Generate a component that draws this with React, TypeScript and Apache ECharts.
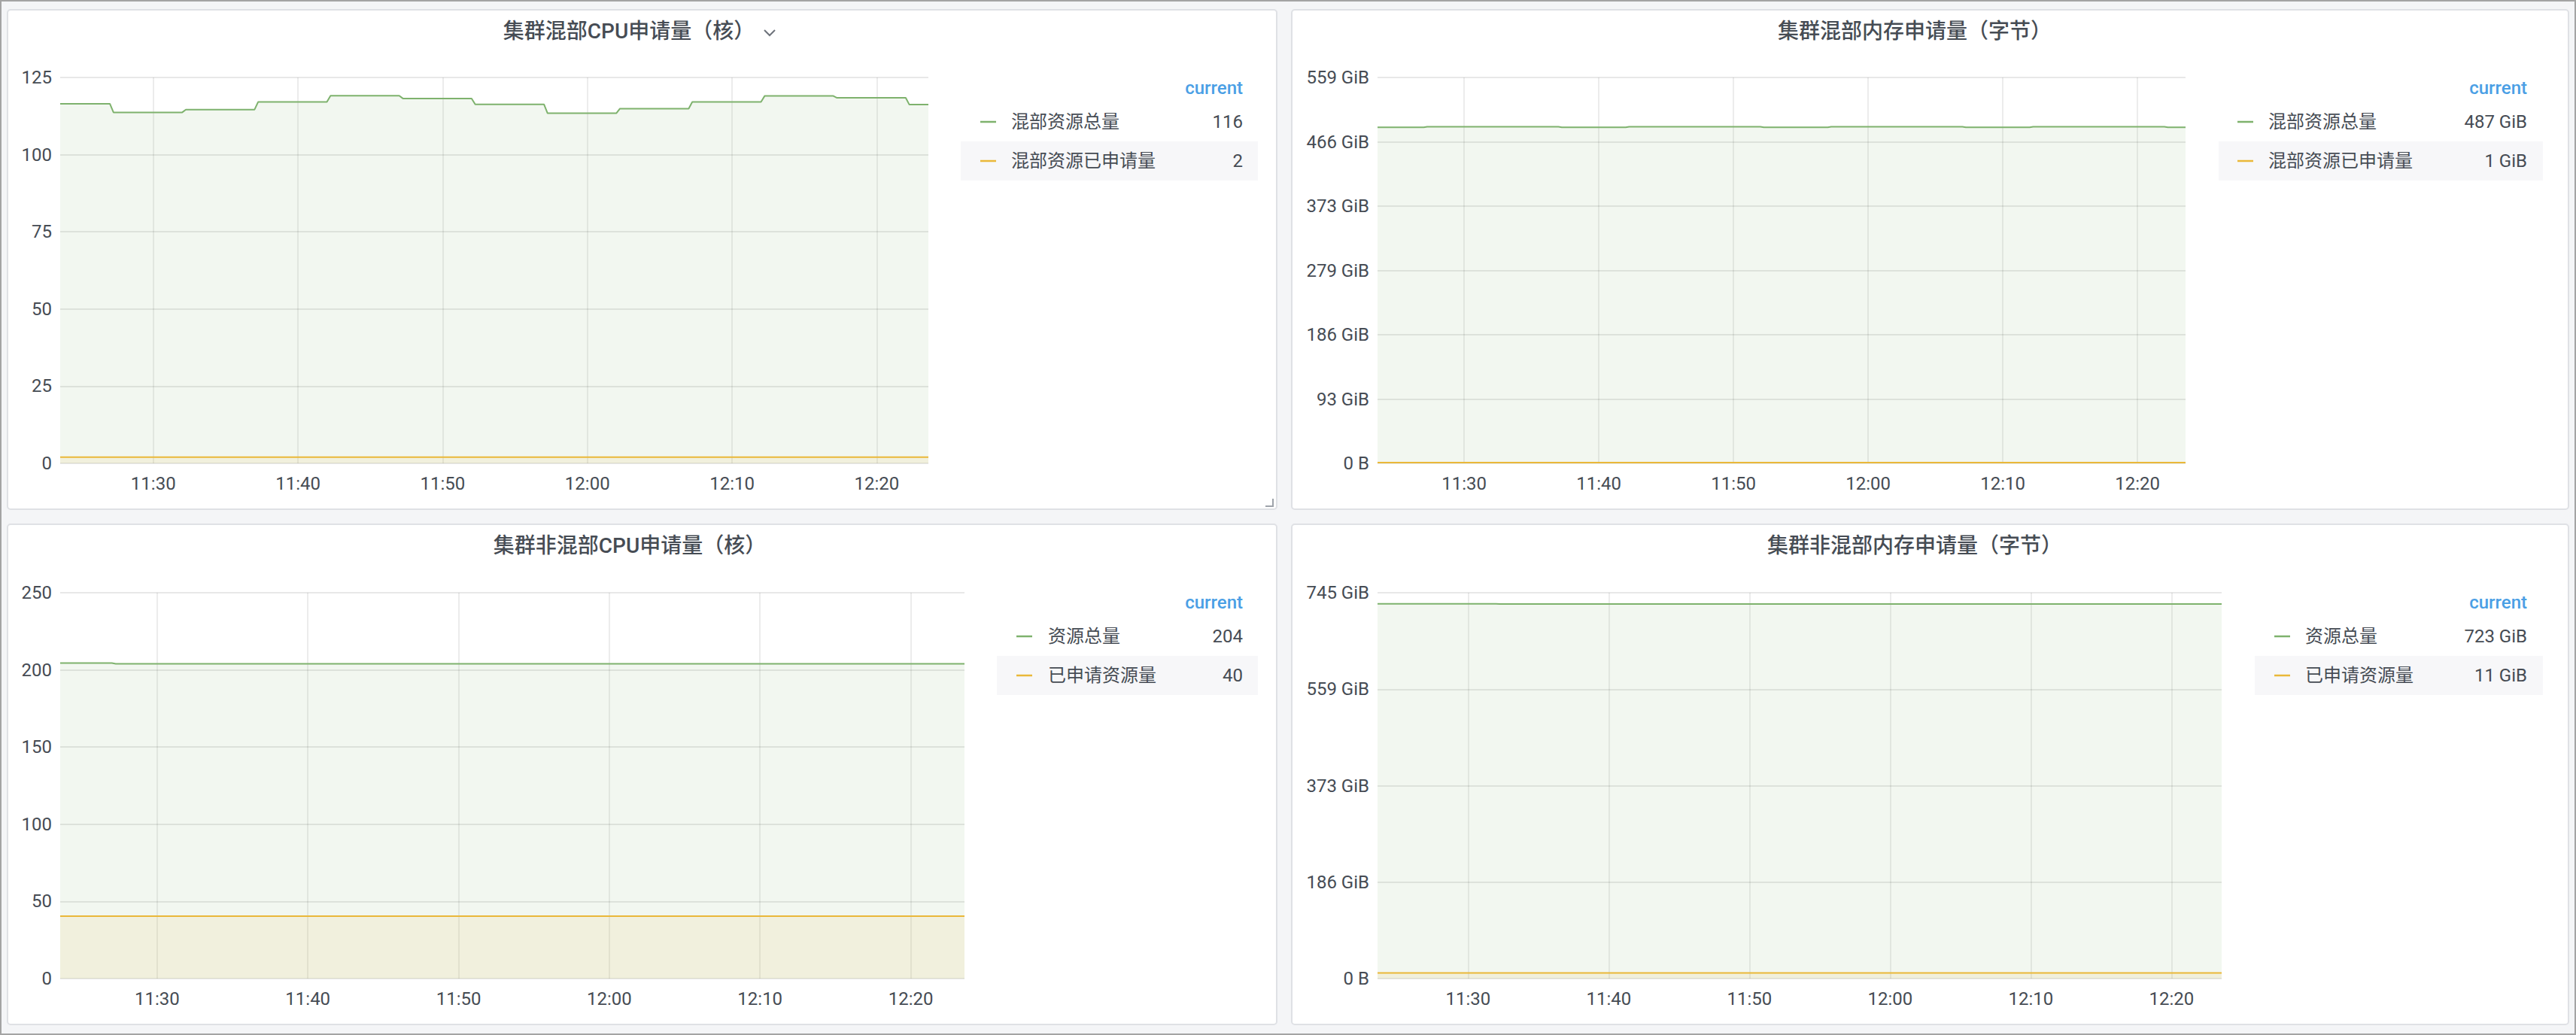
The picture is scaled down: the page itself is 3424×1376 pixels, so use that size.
import { useEffect, useRef } from "react";
import * as echarts from "echarts";

const PAGE_W = 3424;
const PAGE_H = 1376;
const GIB = 1024 ** 3;

// ---- time range (one hour window) ----
const rangeStart = "11:23:34";
const rangeEnd = "12:23:34";
// ECharts picks the largest "nice" minute step below the approximate interval,
// so an approximate 12 minutes gives ticks every 10 minutes (11:30, 11:40, ...)
const approxTickMinutes = 12;
const rampSeconds = 15;

// ---- titles & names ----
const panelTitles = [
  "集群混部CPU申请量（核）",
  "集群混部内存申请量（字节）",
  "集群非混部CPU申请量（核）",
  "集群非混部内存申请量（字节）",
];
const mixNames = ["混部资源总量", "混部资源已申请量"];
const plainNames = ["资源总量", "已申请资源量"];
const legendHeader = "current";

// ---- panel 1: mixed CPU (cores) ----
const mixCpuTimes = ["11:23:34", "11:27:00", "11:32:00", "11:37:00", "11:42:00", "11:47:00", "11:52:00", "11:57:00", "12:02:00", "12:07:00", "12:12:00", "12:17:00", "12:22:00"];
const mixCpuTotal = [116.5, 113.7, 114.6, 117.1, 119.1, 118.2, 116.3, 113.4, 114.9, 117.1, 119.0, 118.4, 116.2];
const mixCpuReqTimes = ["11:23:34"];
const mixCpuRequested = [2];
const mixCpuAxis = { max: 125, interval: 25 };

// ---- panel 2: mixed memory (GiB) ----
const mixMemTimes = ["11:23:34", "11:27:00", "11:37:00", "11:42:00", "11:52:00", "11:57:00", "12:07:00", "12:12:00", "12:22:00"];
const mixMemTotalGiB = [486.7, 487.5, 486.7, 487.5, 486.7, 487.5, 486.7, 487.5, 486.7];
const mixMemReqTimes = ["11:23:34"];
const mixMemRequestedGiB = [1];
const mixMemAxisBytes = { max: 600e9, interval: 100e9 };

// ---- panel 3: non-mixed CPU (cores) ----
const cpuTimes = ["11:23:34", "11:27:00"];
const cpuTotal = [204.4, 204.0];
const cpuReqTimes = ["11:23:34"];
const cpuRequested = [40.4];
const cpuAxis = { max: 250, interval: 50 };

// ---- panel 4: non-mixed memory (GiB) ----
const memTimes = ["11:23:34", "11:32:00"];
const memTotalGiB = [723.8, 723.4];
const memReqTimes = ["11:23:34"];
const memRequestedGiB = [11];
const memAxisBytes = { max: 800e9, interval: 200e9 };

const GREEN = "#7eb26d";
const YELLOW = "#eab839";
const TEXT = "#464c54";
const FONT = 'Roboto, "Noto Sans CJK SC", sans-serif';

const ts = (s: string) => {
  const [h, m, sec] = s.split(":").map(Number);
  return new Date(2024, 0, 15, h, m, sec || 0).getTime();
};
const pad = (n: number) => (n < 10 ? "0" + n : "" + n);

function stepData(times: string[], values: number[], scale = 1) {
  const pts: [number, number][] = [];
  for (let i = 0; i < times.length; i++) {
    const start = i === 0 ? ts(times[i]) : ts(times[i]) + rampSeconds * 1000;
    const end = i + 1 < times.length ? ts(times[i + 1]) : ts(rangeEnd);
    pts.push([start, values[i] * scale]);
    pts.push([end, values[i] * scale]);
  }
  return pts;
}

const layout = [
  { x: 10, y: 13, w: 1687, h: 664, grid: { left: 80, top: 103, width: 1154, height: 513 }, titleX: 836, lg: { right: 1652, bgL: 1277, bgR: 1672, mk: 1303, lab: 1344 } },
  { x: 1717, y: 13, w: 1697, h: 664, grid: { left: 1831, top: 103, width: 1074, height: 513 }, titleX: 2545, lg: { right: 3359, bgL: 2949, bgR: 3380, mk: 2974, lab: 3015 } },
  { x: 10, y: 697, w: 1687, h: 665, grid: { left: 80, top: 788, width: 1202, height: 513 }, titleX: 837, lg: { right: 1652, bgL: 1325, bgR: 1672, mk: 1351, lab: 1393 } },
  { x: 1717, y: 697, w: 1697, h: 665, grid: { left: 1831, top: 788, width: 1122, height: 513 }, titleX: 2545, lg: { right: 3359, bgL: 2997, bgR: 3380, mk: 3023, lab: 3064 } },
];

export default function App() {
  const ref = useRef<HTMLDivElement>(null);
  useEffect(() => {
    document.body.style.margin = "0";
    document.body.style.overflow = "hidden";
    const chart = echarts.init(ref.current!, null, { renderer: "svg", width: PAGE_W, height: PAGE_H });

    const gibFmt = (v: number) => (v === 0 ? "0 B" : `${Math.round(v / GIB)} GiB`);
    const numFmt = (v: number) => `${v}`;

    const panels = [
      { names: mixNames, total: stepData(mixCpuTimes, mixCpuTotal), req: stepData(mixCpuReqTimes, mixCpuRequested), axis: mixCpuAxis, fmt: numFmt, cur: [mixCpuTotal[mixCpuTotal.length - 1], mixCpuRequested[mixCpuRequested.length - 1]], unit: "" },
      { names: mixNames, total: stepData(mixMemTimes, mixMemTotalGiB, GIB), req: stepData(mixMemReqTimes, mixMemRequestedGiB, GIB), axis: mixMemAxisBytes, fmt: gibFmt, cur: [mixMemTotalGiB[mixMemTotalGiB.length - 1], mixMemRequestedGiB[mixMemRequestedGiB.length - 1]], unit: " GiB" },
      { names: plainNames, total: stepData(cpuTimes, cpuTotal), req: stepData(cpuReqTimes, cpuRequested), axis: cpuAxis, fmt: numFmt, cur: [cpuTotal[cpuTotal.length - 1], cpuRequested[cpuRequested.length - 1]], unit: "" },
      { names: plainNames, total: stepData(memTimes, memTotalGiB, GIB), req: stepData(memReqTimes, memRequestedGiB, GIB), axis: memAxisBytes, fmt: gibFmt, cur: [memTotalGiB[memTotalGiB.length - 1], memRequestedGiB[memRequestedGiB.length - 1]], unit: " GiB" },
    ];

    const grids: any[] = [];
    const xAxes: any[] = [];
    const yAxes: any[] = [];
    const series: any[] = [];
    const elements: any[] = [];

    elements.push({ type: "rect", z: -20, shape: { x: 0, y: 0, width: PAGE_W, height: PAGE_H }, style: { fill: "#f4f5f7" } });
    elements.push({ type: "rect", z: -19, shape: { x: 1, y: 1, width: PAGE_W - 2, height: PAGE_H - 2 }, style: { fill: "none", stroke: "#a4a4a4", lineWidth: 2 } });

    const txt = (text: string, x: number, y: number, align: string, opts: any = {}) => ({
      type: "text",
      z: 20,
      x,
      y,
      style: {
        text,
        fill: opts.fill || TEXT,
        fontSize: opts.fontSize || 24,
        fontFamily: FONT,
        fontWeight: opts.fontWeight || 400,
        align,
        textAlign: align,
        verticalAlign: "middle",
        textVerticalAlign: "middle",
      },
    });

    panels.forEach((p, i) => {
      const L = layout[i];
      elements.push({ type: "rect", z: -10, shape: { x: L.x, y: L.y, width: L.w, height: L.h, r: 4 }, style: { fill: "#ffffff", stroke: "#dfe1e5", lineWidth: 2 } });
      elements.push(txt(panelTitles[i], L.titleX, L.y + 28, "center", { fontSize: 28, fontWeight: 500 }));

      // legend
      const hy = L.y + 104;
      const r1 = L.y + 149;
      const r2 = L.y + 201;
      elements.push({ type: "rect", z: -5, shape: { x: L.lg.bgL, y: r2 - 26, width: L.lg.bgR - L.lg.bgL, height: 52 }, style: { fill: "#f7f7f9" } });
      elements.push(txt(legendHeader, L.lg.right, hy, "right", { fill: "#4a9fe5", fontWeight: 500 }));
      [r1, r2].forEach((ry, k) => {
        elements.push({ type: "line", z: 20, shape: { x1: L.lg.mk, y1: ry, x2: L.lg.mk + 21, y2: ry }, style: { stroke: k === 0 ? GREEN : YELLOW, lineWidth: 2.5 } });
        elements.push(txt(p.names[k], L.lg.lab, ry, "left"));
        elements.push(txt(`${Math.round(p.cur[k])}${p.unit}`, L.lg.right, ry, "right"));
      });

      grids.push({ left: L.grid.left, top: L.grid.top, width: L.grid.width, height: L.grid.height, containLabel: false });
      xAxes.push({
        type: "time",
        gridIndex: i,
        min: ts(rangeStart),
        max: ts(rangeEnd),
        minInterval: approxTickMinutes * 60000,
        maxInterval: approxTickMinutes * 60000,
        axisLine: { show: false },
        axisTick: { show: false },
        axisLabel: {
          show: true,
          fontSize: 24,
          fontFamily: FONT,
          color: TEXT,
          margin: 15,
          showMinLabel: false,
          showMaxLabel: false,
          formatter: (v: number) => {
            const d = new Date(v);
            return `${pad(d.getHours())}:${pad(d.getMinutes())}`;
          },
        },
        splitLine: { show: true, showMinLine: false, showMaxLine: false, lineStyle: { color: "rgba(0,0,0,0.075)", width: 2 } },
      });
      yAxes.push({
        type: "value",
        gridIndex: i,
        min: 0,
        max: p.axis.max,
        interval: p.axis.interval,
        axisLine: { show: false },
        axisTick: { show: false },
        axisLabel: { fontSize: 24, fontFamily: FONT, color: TEXT, margin: 11, formatter: p.fmt },
        splitLine: { show: true, lineStyle: { color: "rgba(0,0,0,0.09)", width: 2 } },
      });
      [p.total, p.req].forEach((data, k) => {
        const c = k === 0 ? GREEN : YELLOW;
        series.push({
          type: "line",
          name: p.names[k],
          xAxisIndex: i,
          yAxisIndex: i,
          data,
          symbol: "none",
          showSymbol: false,
          silent: true,
          lineStyle: { color: c, width: 2 },
          itemStyle: { color: c },
          areaStyle: { color: c, opacity: 0.1 },
          z: 2 + k,
        });
      });
    });

    // hover chevron next to first title and resize corner of first panel
    elements.push({ type: "polyline", z: 20, shape: { points: [[1016, 40], [1023, 47], [1030, 40]] }, style: { stroke: "#6e737b", lineWidth: 2, fill: "none" } });
    elements.push({ type: "polyline", z: 20, shape: { points: [[1692, 663], [1692, 673], [1682, 673]] }, style: { stroke: "#9ea3aa", lineWidth: 2, fill: "none" } });

    chart.setOption({
      animation: false,
      backgroundColor: "transparent",
      grid: grids,
      xAxis: xAxes,
      yAxis: yAxes,
      series,
      graphic: { elements },
    });
    return () => chart.dispose();
  }, []);
  return <div ref={ref} style={{ position: "absolute", left: 0, top: 0, width: PAGE_W, height: PAGE_H }} />;
}
